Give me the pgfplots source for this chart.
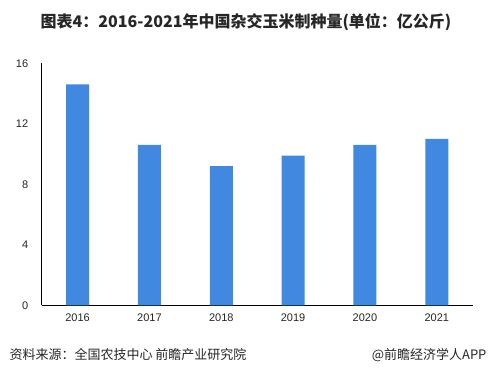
\documentclass[border=0pt]{standalone}
\usepackage{fontspec}
\setmainfont{Liberation Sans}
\newfontfamily\cjk{Noto Sans CJK SC}
\usepackage{pgfplots}
\pgfplotsset{compat=1.18}
\definecolor{barblue}{HTML}{4189E0}
\definecolor{txt}{HTML}{262626}
\begin{document}
\begin{tikzpicture}
\path[use as bounding box] (0pt,0pt) rectangle (492pt,386pt);
\node[font=\cjk\bfseries\fontsize{16}{18}\selectfont, text=txt] at (246pt,364pt) {图表4：2016-2021年中国杂交玉米制种量(单位：亿公斤)};
\begin{axis}[
  at={(41.7pt,80.7pt)}, anchor=south west,
  scale only axis, width=431pt, height=242pt,
  ymin=0, ymax=16, ytick={0,4,8,12,16},
  xmin=-0.5, xmax=5.5, xtick=data,
  xticklabels={2016,2017,2018,2019,2020,2021},
  axis lines*=left, axis line style={black, line width=0.9pt},
  major tick length=0pt,
  tick label style={font=\fontsize{11}{13}\selectfont, text=txt},
  /pgf/number format/assume math mode=true,
  yticklabel style={xshift=-10pt},
  xticklabel style={yshift=-5pt},
  axis line style={-},
  clip=false,
]
\addplot[ybar, bar width=23pt, fill=barblue, draw=none] coordinates {
(0,14.6) (1,10.6) (2,9.2) (3,9.9) (4,10.6) (5,11.0)};
\end{axis}
\node[anchor=west, font=\cjk\fontsize{13}{15}\selectfont, text=txt] at (6pt,31pt) {资料来源：全国农技中心 前瞻产业研究院};
\node[anchor=east, font=\cjk\fontsize{13}{15}\selectfont, text=txt] at (490pt,31pt) {@前瞻经济学人APP};
\end{tikzpicture}
\end{document}
